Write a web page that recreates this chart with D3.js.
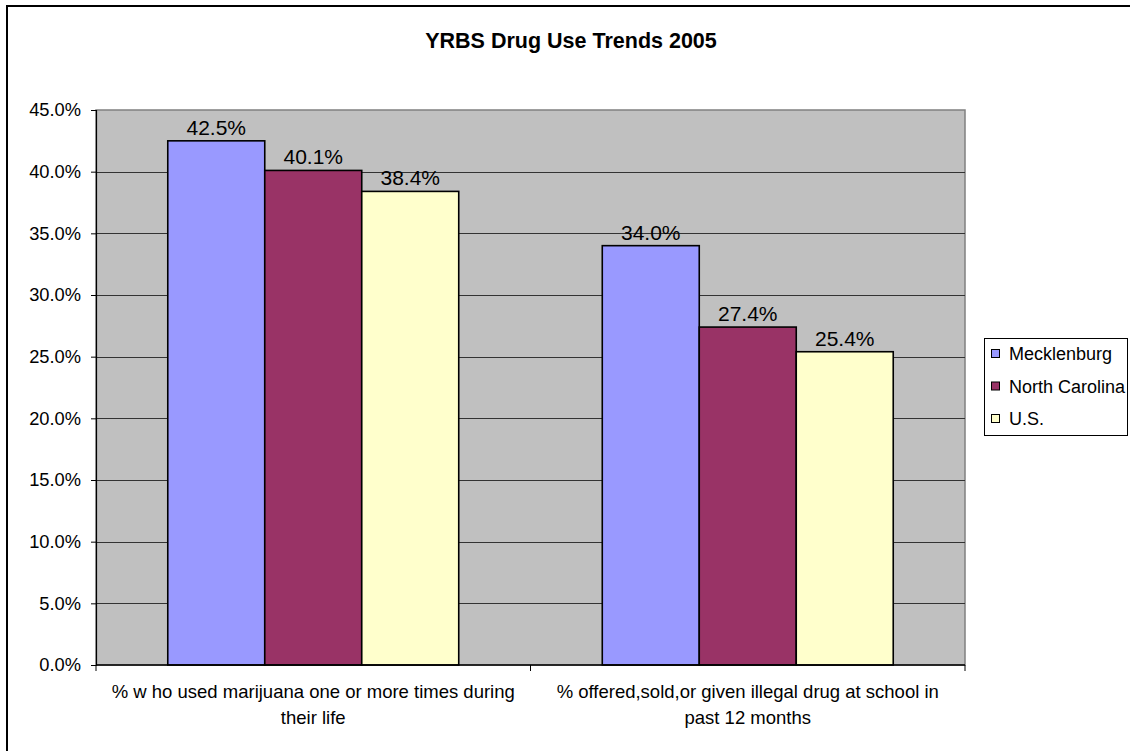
<!DOCTYPE html>
<html><head><meta charset="utf-8">
<script src="https://cdn.jsdelivr.net/npm/d3@7"></script>
<style>body{margin:0;background:#fff}svg{display:block;font-family:"Liberation Sans",Arial,sans-serif}</style>
</head><body>
<svg id="c" width="1130" height="751"></svg>
<script>
const title = "YRBS Drug Use Trends 2005";
const categories = [
  ["% w ho used marijuana one or more times during", "their life"],
  ["% offered,sold,or given illegal drug at school in", "past 12 months"]
];
const seriesNames = ["Mecklenburg", "North Carolina", "U.S."];
const seriesColors = ["#9999FF", "#993366", "#FFFFCC"];
const mecklenburg = [42.5, 34.0];
const northCarolina = [40.1, 27.4];
const us = [38.4, 25.4];
const yTicks = [0, 5, 10, 15, 20, 25, 30, 35, 40, 45];

const series = [mecklenburg, northCarolina, us];
const svg = d3.select("#c");
const L = 96, R = 965, T = 110, B = 665;

// outer border
svg.append("rect").attr("x", 7).attr("y", 6).attr("width", 1140).attr("height", 760)
  .attr("fill", "#fff").attr("stroke", "#000").attr("stroke-width", 2);

svg.append("text").attr("x", 571).attr("y", 48).attr("text-anchor", "middle")
  .attr("font-weight", "bold").attr("font-size", 21.5).text(title);

const y = d3.scaleLinear().domain([0, 45]).range([B, T]);
const x0 = d3.scaleBand().domain(d3.range(categories.length)).range([L, R]).padding(0);
const x1 = d3.scaleBand().domain(d3.range(series.length)).range([0, x0.bandwidth()])
  .paddingInner(0).paddingOuter(0.74);

// plot area
svg.append("rect").attr("x", L).attr("y", T).attr("width", R - L).attr("height", B - T)
  .attr("fill", "#C0C0C0").attr("stroke", "#808080").attr("stroke-width", 1.5);

// gridlines
svg.append("g").selectAll("line").data(yTicks.filter(d => d > 0 && d < 45)).join("line")
  .attr("x1", L).attr("x2", R).attr("y1", d => Math.round(y(d)) + 0.5).attr("y2", d => Math.round(y(d)) + 0.5)
  .attr("stroke", "#333").attr("stroke-width", 1);

// bars
const g = svg.append("g");
series.forEach((vals, si) => {
  g.selectAll(null).data(vals).join("rect")
    .attr("x", (d, ci) => x0(ci) + x1(si))
    .attr("y", d => y(d))
    .attr("width", x1.bandwidth())
    .attr("height", d => B - y(d))
    .attr("fill", seriesColors[si]).attr("stroke", "#000").attr("stroke-width", 1.6);
  g.selectAll(null).data(vals).join("text")
    .attr("x", (d, ci) => x0(ci) + x1(si) + x1.bandwidth() / 2)
    .attr("y", d => y(d) - 6)
    .attr("text-anchor", "middle").attr("font-size", 21).attr("fill", "#000")
    .text(d => d.toFixed(1) + "%");
});

// y axis
const yAxis = d3.axisLeft(y).tickValues(yTicks).tickFormat(d => d.toFixed(1) + "%").tickSize(5).tickPadding(10);
const ya = svg.append("g").attr("transform", `translate(${L},0)`).call(yAxis);
ya.select(".domain").attr("stroke", "#000").attr("stroke-width", 1.2);
ya.selectAll("text").attr("font-size", 18.3).attr("fill", "#000").attr("font-family", '"Liberation Sans",Arial,sans-serif');
ya.selectAll("line").attr("stroke", "#000");

// x axis
svg.append("line").attr("x1", L).attr("x2", R).attr("y1", B).attr("y2", B).attr("stroke", "#000").attr("stroke-width", 1.5);
const xt = [L, ...categories.map((c, i) => x0(i) + x0.bandwidth())];
svg.append("g").selectAll("line").data(xt).join("line")
  .attr("x1", d => d).attr("x2", d => d).attr("y1", B).attr("y2", B + 6).attr("stroke", "#000");
const cl = svg.append("g").selectAll("text").data(categories).join("text")
  .attr("x", (d, i) => x0(i) + x0.bandwidth() / 2)
  .attr("y", 698).attr("text-anchor", "middle").attr("font-size", 18.5).attr("fill", "#000");
cl.selectAll("tspan").data(d => d).join("tspan")
  .attr("x", function() { return d3.select(this.parentNode).attr("x"); })
  .attr("dy", (d, i) => i === 0 ? 0 : 26).text(d => d);

// legend
const lg = svg.append("g");
lg.append("rect").attr("x", 984.5).attr("y", 338.5).attr("width", 143).attr("height", 97)
  .attr("fill", "#fff").attr("stroke", "#000").attr("stroke-width", 1);
seriesNames.forEach((n, i) => {
  const cy = 354 + i * 32.5;
  lg.append("rect").attr("x", 991.5).attr("y", cy - 4.5).attr("width", 8).attr("height", 8)
    .attr("fill", seriesColors[i]).attr("stroke", "#000").attr("stroke-width", 1);
  lg.append("text").attr("x", 1009).attr("y", cy + 6).attr("font-size", 18).attr("fill", "#000").text(n);
});
</script>
</body></html>
